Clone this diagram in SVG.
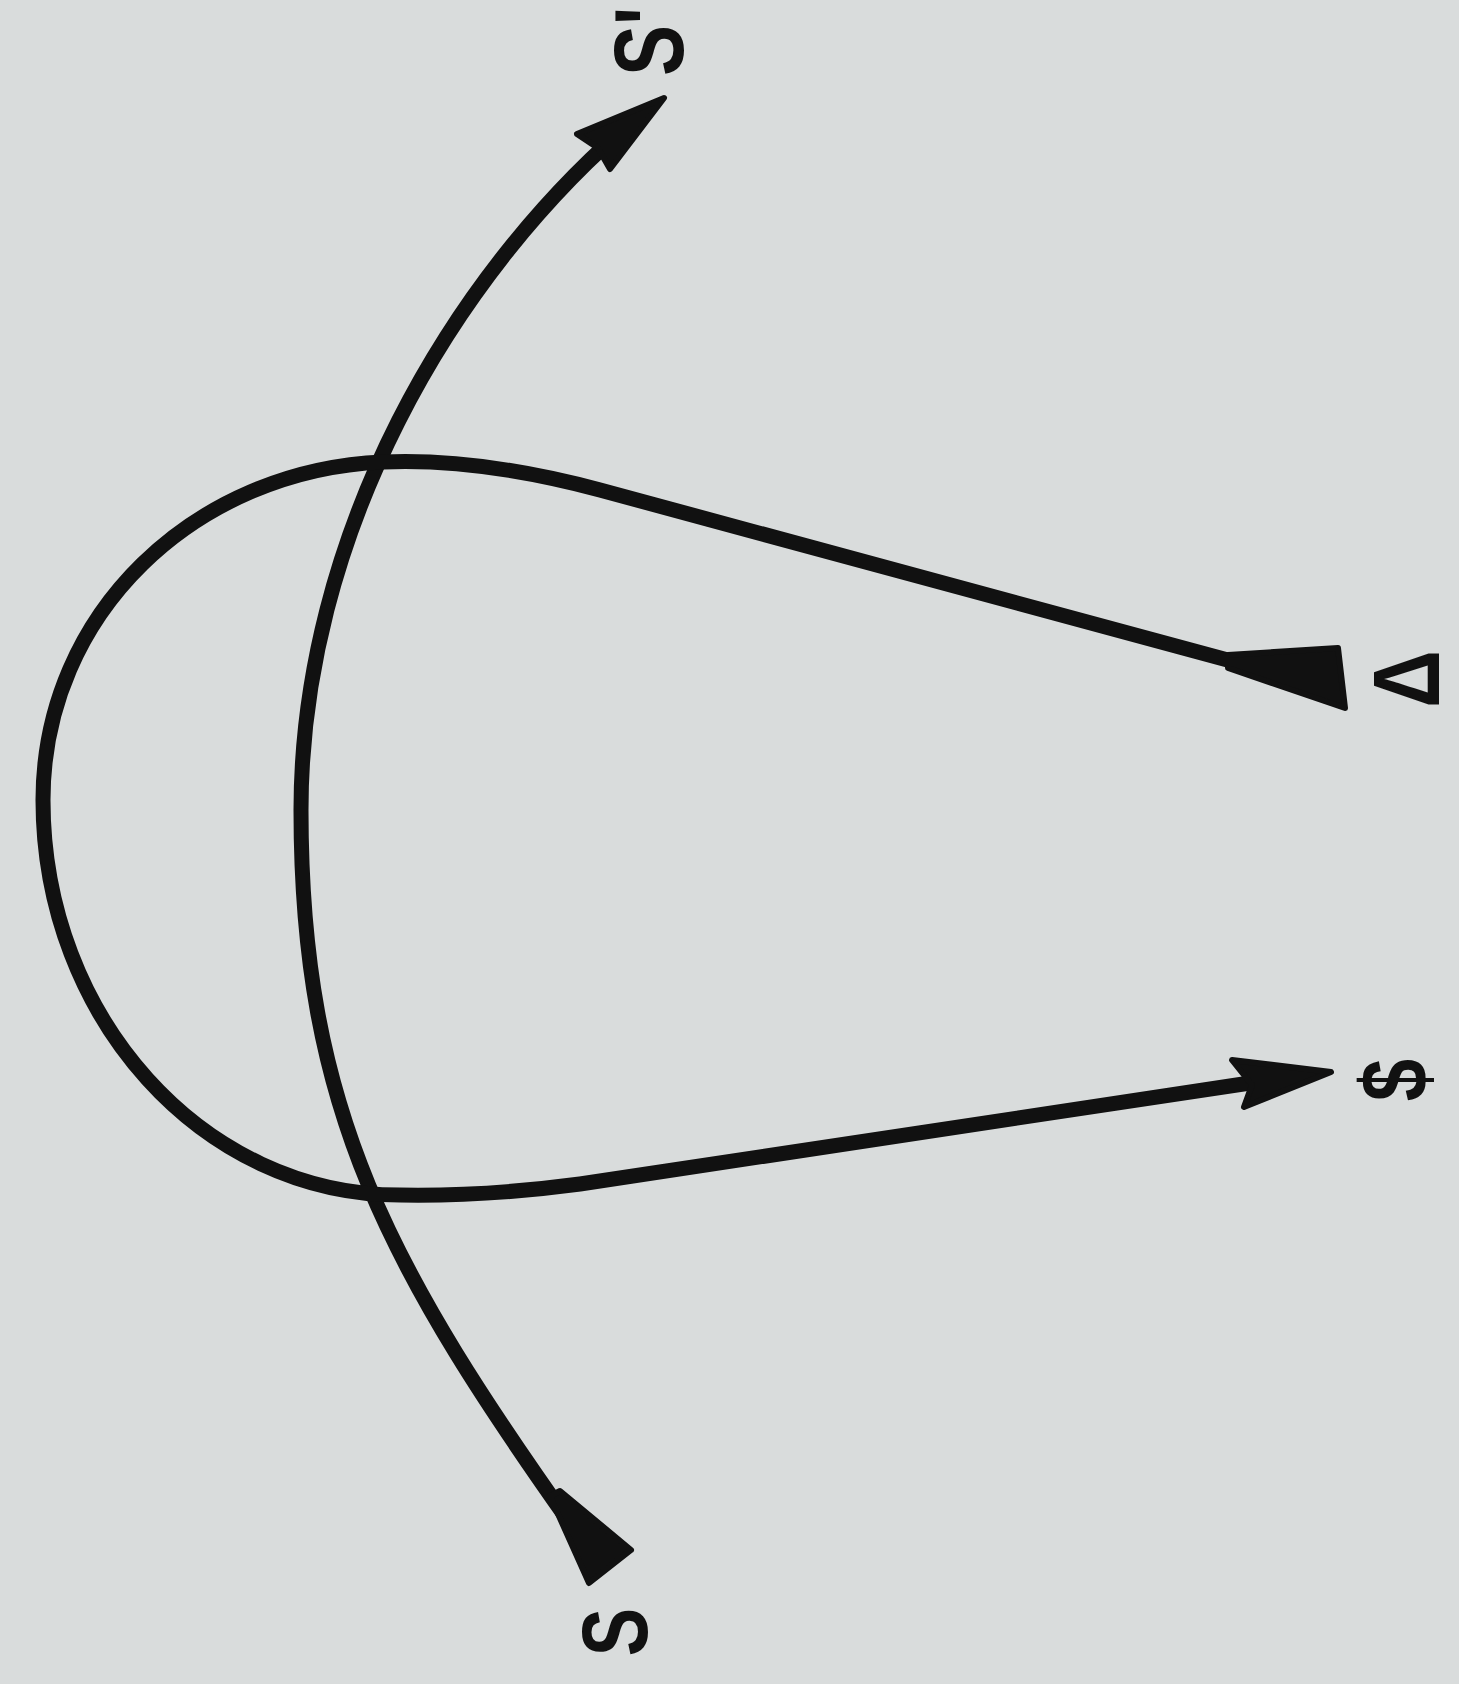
<svg xmlns="http://www.w3.org/2000/svg" width="1459" height="1684" viewBox="0 0 1459 1684">
<style>
.bg{fill:#d9dcdc}
.line{fill:none;stroke:#111;stroke-width:15;stroke-linecap:round;stroke-linejoin:round}
.head{fill:#111;stroke:#111;stroke-width:6;stroke-linejoin:round}
.lbl{font-family:"Liberation Sans","Arial",sans-serif;font-weight:bold;fill:#111}
</style>
<rect class="bg" x="0" y="0" width="1459" height="1684"/>
<g id="connectors">
  <g id="edge-S-Sprime">
    <path class="line" d="M582,1540 C388,1268 301,1110 301,810 C301,540 447.5,275 640,115"/>
    <polygon class="head" points="550,1496 560,1491 631,1550 589,1583"/>
    <polygon class="head" points="664,98 577,134 598,148 610,169"/>
  </g>
  <g id="edge-Delta-Sbarred">
    <path class="line" d="M1235,662 L600,490 C525,470 453,459 383,462 C195,470 43,613 43,800 C43,1018 203,1195 400,1195 C460,1196 520,1192 580,1184 L1250,1083"/>
    <polygon class="head" points="1228,655 1338,648 1345,708 1228,668"/>
    <polygon class="head" points="1331,1072 1232,1060 1252,1085 1244,1107"/>
  </g>
</g>
<g id="node-S">
  <text class="lbl" font-size="93" text-anchor="middle" transform="translate(647,1632) rotate(-90) scale(0.78,1)">S</text>
</g>
<g id="node-Sprime">
  <text class="lbl" font-size="98" transform="translate(683,76) rotate(-90) scale(0.78,1)">S'</text>
</g>
<g id="node-Delta">
  <text class="lbl" font-size="94" text-anchor="middle" transform="translate(1439,679) rotate(-90) scale(0.85,1)">Δ</text>
</g>
<g id="node-Sbarred">
  <text class="lbl" font-size="95" text-anchor="middle" transform="translate(1427,1080) rotate(-90) scale(0.8,1)">$</text>
</g>
</svg>
